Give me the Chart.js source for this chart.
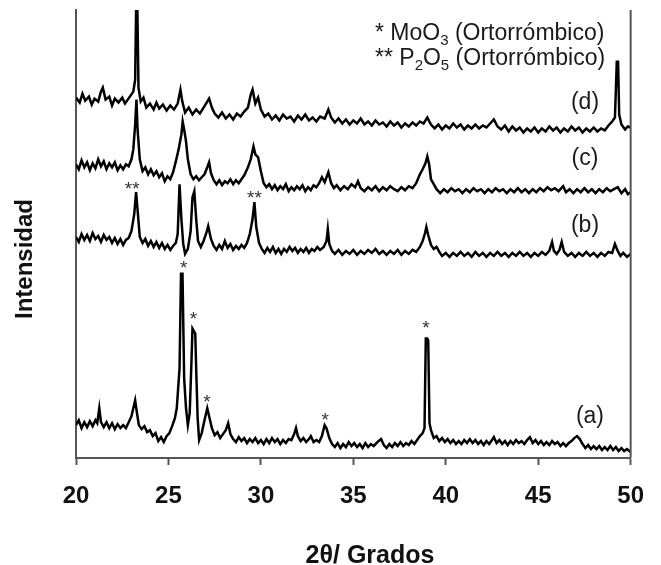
<!DOCTYPE html>
<html>
<head>
<meta charset="utf-8">
<script src="https://cdn.jsdelivr.net/npm/chart.js@4.4.1/dist/chart.umd.min.js"></script>
<style>
  html, body { margin: 0; padding: 0; background: #fff; }
  #wrap { width: 661px; height: 565px; position: relative; }
</style>
</head>
<body>
<div id="wrap"><canvas id="xrdChart"></canvas></div>
<script>
// Tick labels of the 2θ axis
const xTicks = [20, 25, 30, 35, 40, 45, 50];

// Diffraction patterns, [2θ, intensity] (arbitrary units, offset per sample)
const traceA = [[20.0,33],[20.15,38],[20.3,30],[20.45,36],[20.6,31],[20.75,37],[20.9,32],[21.05,38],[21.15,35],[21.26,50],[21.35,36],[21.5,31],[21.65,36],[21.8,30],[21.95,35],[22.1,29],[22.25,34],[22.4,30],[22.55,33],[22.7,30],[22.85,36],[23.0,42],[23.1,50],[23.2,58],[23.3,45],[23.4,33],[23.55,29],[23.7,32],[23.85,26],[24.0,28],[24.15,22],[24.3,25],[24.45,17],[24.6,21],[24.75,16],[24.9,22],[25.05,25],[25.2,32],[25.35,40],[25.45,50],[25.6,90],[25.68,185],[25.76,185],[25.85,80],[25.95,50],[26.05,33],[26.15,45],[26.25,100],[26.3,130],[26.45,125],[26.5,90],[26.58,40],[26.66,18],[26.8,25],[26.95,38],[27.1,50],[27.2,42],[27.35,30],[27.5,23],[27.65,26],[27.8,20],[27.95,24],[28.1,28],[28.23,35],[28.35,24],[28.5,19],[28.65,16],[28.8,21],[28.95,17],[29.1,20],[29.25,15],[29.4,19],[29.55,16],[29.7,20],[29.85,15],[30.0,18],[30.15,14],[30.3,19],[30.45,15],[30.6,20],[30.75,16],[30.9,19],[31.05,14],[31.2,18],[31.35,15],[31.5,19],[31.65,18],[31.8,24],[31.9,30],[32.0,22],[32.15,17],[32.3,20],[32.45,16],[32.6,19],[32.7,22],[32.85,16],[33.0,18],[33.15,16],[33.3,22],[33.45,33],[33.55,30],[33.7,20],[33.85,14],[34.0,11],[34.15,15],[34.3,10],[34.45,14],[34.6,11],[34.75,16],[34.9,12],[35.05,15],[35.2,11],[35.35,14],[35.5,10],[35.65,15],[35.8,11],[35.95,14],[36.1,12],[36.3,16],[36.5,19],[36.65,13],[36.8,10],[36.95,14],[37.1,11],[37.25,15],[37.4,12],[37.55,16],[37.7,12],[37.85,15],[38.0,13],[38.15,17],[38.3,14],[38.45,18],[38.6,22],[38.75,25],[38.85,30],[38.92,120],[39.0,120],[39.05,118],[39.12,35],[39.2,28],[39.35,20],[39.5,22],[39.65,17],[39.8,20],[39.95,16],[40.1,19],[40.25,15],[40.4,18],[40.55,14],[40.7,17],[40.85,14],[41.0,18],[41.15,15],[41.3,19],[41.45,15],[41.6,18],[41.75,14],[41.9,17],[42.05,13],[42.2,17],[42.35,14],[42.5,18],[42.6,21],[42.75,15],[42.9,18],[43.05,14],[43.2,17],[43.35,13],[43.5,17],[43.65,14],[43.8,18],[43.95,15],[44.1,17],[44.25,14],[44.4,18],[44.55,21],[44.7,15],[44.85,18],[45.0,14],[45.15,17],[45.3,13],[45.45,16],[45.6,13],[45.75,17],[45.9,14],[46.05,16],[46.2,12],[46.35,15],[46.5,12],[46.65,15],[46.8,17],[46.95,20],[47.1,22],[47.25,19],[47.4,14],[47.55,10],[47.7,13],[47.85,9],[48.0,12],[48.15,9],[48.3,12],[48.45,8],[48.6,11],[48.75,8],[48.9,12],[49.05,8],[49.2,11],[49.35,7],[49.5,10],[49.65,7],[49.8,9],[50.0,6]];

const traceB = [[20.0,222],[20.15,217],[20.3,225],[20.45,219],[20.6,224],[20.75,218],[20.9,226],[21.05,220],[21.2,223],[21.35,217],[21.5,224],[21.65,219],[21.8,222],[21.95,216],[22.1,221],[22.25,215],[22.4,220],[22.55,214],[22.7,219],[22.85,221],[23.0,228],[23.15,245],[23.25,267],[23.35,245],[23.45,222],[23.6,216],[23.75,220],[23.9,213],[24.05,218],[24.2,212],[24.35,217],[24.5,211],[24.65,216],[24.8,210],[24.95,214],[25.1,209],[25.25,213],[25.4,216],[25.5,225],[25.6,275],[25.7,240],[25.8,215],[25.9,205],[26.05,210],[26.2,228],[26.3,262],[26.4,268],[26.5,240],[26.6,218],[26.75,212],[26.9,218],[27.05,226],[27.15,233],[27.3,220],[27.45,213],[27.6,209],[27.75,214],[27.9,210],[28.05,218],[28.2,211],[28.35,215],[28.5,209],[28.65,213],[28.8,210],[28.95,214],[29.1,211],[29.25,216],[29.4,225],[29.55,240],[29.65,257],[29.75,232],[29.9,216],[30.05,210],[30.2,206],[30.35,211],[30.5,207],[30.65,212],[30.8,206],[30.95,210],[31.1,205],[31.25,210],[31.4,207],[31.55,212],[31.7,208],[31.85,211],[32.0,206],[32.15,210],[32.3,207],[32.45,211],[32.6,206],[32.75,210],[32.9,208],[33.05,212],[33.2,209],[33.4,212],[33.55,218],[33.62,230],[33.7,215],[33.85,208],[34.0,205],[34.2,209],[34.4,204],[34.6,208],[34.8,205],[35.0,209],[35.2,204],[35.4,208],[35.6,205],[35.8,209],[36.0,206],[36.2,210],[36.4,205],[36.6,208],[36.8,204],[37.0,208],[37.2,205],[37.4,209],[37.6,204],[37.8,208],[38.0,205],[38.2,209],[38.4,207],[38.6,212],[38.75,218],[38.88,226],[38.95,232],[39.05,224],[39.2,214],[39.35,210],[39.5,212],[39.65,207],[39.8,203],[40.0,206],[40.2,202],[40.4,206],[40.6,203],[40.8,207],[41.0,203],[41.2,206],[41.4,202],[41.6,207],[41.8,203],[42.0,206],[42.2,202],[42.4,206],[42.6,203],[42.8,207],[43.0,203],[43.2,206],[43.4,202],[43.6,206],[43.8,203],[44.0,207],[44.2,203],[44.4,206],[44.6,202],[44.8,206],[45.0,203],[45.2,207],[45.4,204],[45.6,208],[45.75,217],[45.85,208],[46.0,205],[46.15,209],[46.27,217],[46.4,207],[46.6,203],[46.8,206],[47.0,202],[47.2,206],[47.4,203],[47.6,207],[47.8,203],[48.0,206],[48.2,202],[48.4,206],[48.6,203],[48.8,207],[49.0,206],[49.15,215],[49.3,208],[49.45,203],[49.6,206],[49.8,202],[50.0,205]];

const traceC = [[20.0,295],[20.15,290],[20.3,299],[20.45,292],[20.6,297],[20.75,289],[20.9,296],[21.05,291],[21.2,300],[21.35,293],[21.5,298],[21.65,290],[21.8,296],[21.95,292],[22.1,297],[22.25,289],[22.4,294],[22.55,290],[22.7,295],[22.85,293],[23.0,300],[23.1,310],[23.2,335],[23.27,360],[23.33,330],[23.45,300],[23.6,288],[23.75,292],[23.9,285],[24.05,290],[24.2,284],[24.35,288],[24.5,282],[24.65,286],[24.8,278],[24.95,283],[25.1,280],[25.25,287],[25.4,298],[25.55,310],[25.7,325],[25.77,338],[25.85,330],[25.95,318],[26.05,300],[26.2,285],[26.35,280],[26.5,283],[26.65,279],[26.8,282],[26.95,285],[27.1,292],[27.2,297],[27.3,286],[27.45,279],[27.6,275],[27.75,279],[27.9,274],[28.05,278],[28.2,276],[28.35,280],[28.5,275],[28.65,279],[28.8,276],[28.95,280],[29.1,284],[29.3,292],[29.45,300],[29.6,313],[29.7,305],[29.85,302],[30.0,288],[30.15,276],[30.3,272],[30.45,275],[30.6,270],[30.75,274],[30.9,269],[31.05,273],[31.2,270],[31.35,275],[31.5,268],[31.65,272],[31.8,269],[31.95,273],[32.1,270],[32.25,274],[32.4,268],[32.55,272],[32.7,269],[32.85,274],[33.0,272],[33.15,276],[33.3,282],[33.45,277],[33.65,287],[33.8,276],[33.95,271],[34.1,274],[34.3,269],[34.5,273],[34.7,270],[34.9,275],[35.1,272],[35.25,278],[35.4,271],[35.6,268],[35.8,272],[36.0,269],[36.2,273],[36.4,268],[36.6,272],[36.8,269],[37.0,273],[37.2,270],[37.4,268],[37.6,272],[37.8,269],[38.0,273],[38.2,271],[38.4,276],[38.6,285],[38.75,290],[38.9,296],[39.0,303],[39.1,295],[39.2,280],[39.35,275],[39.5,270],[39.7,266],[39.9,270],[40.1,267],[40.3,271],[40.5,268],[40.7,270],[40.9,266],[41.1,270],[41.3,267],[41.5,271],[41.7,268],[41.9,270],[42.1,266],[42.3,270],[42.5,267],[42.7,271],[42.9,268],[43.1,270],[43.3,266],[43.5,270],[43.7,267],[43.9,271],[44.1,267],[44.3,270],[44.5,266],[44.7,270],[44.9,267],[45.1,271],[45.3,268],[45.5,272],[45.7,269],[45.9,271],[46.1,268],[46.35,273],[46.5,267],[46.7,270],[46.9,266],[47.1,270],[47.3,267],[47.5,271],[47.7,267],[47.9,270],[48.1,266],[48.3,270],[48.5,267],[48.7,271],[48.9,268],[49.1,270],[49.3,272],[49.5,266],[49.7,270],[49.85,265],[50.0,267]];

const traceD = [[20.0,362],[20.2,357],[20.35,366],[20.5,359],[20.7,363],[20.85,355],[21.0,361],[21.2,358],[21.35,368],[21.45,372],[21.6,360],[21.8,363],[21.95,354],[22.1,361],[22.3,357],[22.5,362],[22.65,356],[22.8,360],[22.95,364],[23.1,368],[23.2,380],[23.25,450],[23.32,450],[23.38,372],[23.5,358],[23.65,362],[23.8,352],[24.0,356],[24.2,350],[24.35,357],[24.5,351],[24.7,355],[24.9,349],[25.1,354],[25.3,350],[25.5,356],[25.65,370],[25.75,358],[25.9,347],[26.1,352],[26.3,345],[26.5,350],[26.7,346],[26.9,352],[27.1,358],[27.2,361],[27.35,352],[27.5,346],[27.7,342],[27.9,347],[28.1,341],[28.3,345],[28.5,340],[28.7,346],[28.9,343],[29.1,348],[29.3,352],[29.45,365],[29.55,370],[29.7,356],[29.85,362],[30.0,350],[30.2,343],[30.4,346],[30.6,340],[30.8,344],[31.0,339],[31.2,345],[31.4,341],[31.6,343],[31.8,338],[32.0,344],[32.2,340],[32.4,345],[32.6,339],[32.8,342],[33.0,338],[33.2,343],[33.45,341],[33.65,350],[33.8,342],[34.0,337],[34.2,341],[34.4,336],[34.6,340],[34.8,335],[35.0,339],[35.2,336],[35.4,341],[35.6,335],[35.8,338],[36.0,334],[36.2,339],[36.4,335],[36.6,337],[36.8,333],[37.0,338],[37.2,334],[37.4,337],[37.6,332],[37.8,336],[38.0,333],[38.2,337],[38.4,334],[38.6,338],[38.8,336],[39.0,342],[39.2,335],[39.4,331],[39.6,335],[39.8,330],[40.0,334],[40.2,331],[40.4,336],[40.6,332],[40.8,335],[41.0,330],[41.2,334],[41.4,331],[41.6,335],[41.8,331],[42.0,334],[42.2,332],[42.4,336],[42.6,340],[42.8,333],[43.0,330],[43.2,334],[43.4,328],[43.6,333],[43.8,329],[44.0,332],[44.2,327],[44.4,331],[44.6,328],[44.8,332],[45.0,327],[45.2,331],[45.4,328],[45.6,333],[45.8,329],[46.0,332],[46.2,327],[46.4,331],[46.6,328],[46.8,333],[47.0,329],[47.2,332],[47.4,327],[47.6,331],[47.8,328],[48.0,332],[48.2,328],[48.4,331],[48.6,329],[48.8,334],[49.0,338],[49.15,342],[49.25,398],[49.32,398],[49.38,345],[49.5,335],[49.7,330],[49.85,333],[50.0,332]];

// Peak markers: [text, 2θ, intensity]
const peakMarks = [
    ['**', 23.04, 275], ['**', 29.65, 266],
    ['*', 25.82, 196], ['*', 26.35, 145], ['*', 27.08, 61],
    ['*', 33.48, 43], ['*', 38.93, 136]
];

// Sample labels: [text, 2θ, intensity]
const sampleLabels = [
    ['(d)', 47.53, 357], ['(c)', 47.53, 301],
    ['(b)', 47.53, 233], ['(a)', 47.80, 42]
];

const FONT = '"Liberation Sans", Arial, sans-serif';

function toPoints(arr) {
    return arr.map(p => ({ x: p[0], y: p[1] }));
}

// Draws a line of text with subscript pieces, e.g. MoO3
function drawRich(ctx, parts, x, y) {
    let cx = x;
    parts.forEach(part => {
        if (part.sub) {
            ctx.font = '15px ' + FONT;
            ctx.fillText(part.t, cx, y + 5);
        } else {
            ctx.font = '23px ' + FONT;
            ctx.fillText(part.t, cx, y);
        }
        cx += ctx.measureText(part.t).width;
    });
}

const overlay = {
    id: 'overlay',
    afterDraw(chart) {
        const { ctx, chartArea, scales } = chart;
        const xs = scales.x, ys = scales.y;
        ctx.save();

        // right frame line
        ctx.strokeStyle = '#555';
        ctx.lineWidth = 2;
        ctx.beginPath();
        ctx.moveTo(chartArea.right, chartArea.top);
        ctx.lineTo(chartArea.right, chartArea.bottom);
        ctx.stroke();

        ctx.fillStyle = '#111';

        // axis titles
        ctx.font = 'bold 25px ' + FONT;
        ctx.textAlign = 'center';
        ctx.textBaseline = 'alphabetic';
        ctx.fillText('2θ/ Grados', 370, 563);

        ctx.save();
        ctx.translate(32, 259);
        ctx.rotate(-Math.PI / 2);
        ctx.font = 'bold 24px ' + FONT;
        ctx.fillText('Intensidad', 0, 0);
        ctx.restore();

        // peak markers
        ctx.font = '19px ' + FONT;
        ctx.textAlign = 'center';
        ctx.textBaseline = 'alphabetic';
        ctx.fillStyle = '#333';
        peakMarks.forEach(m => {
            ctx.fillText(m[0], xs.getPixelForValue(m[1]), ys.getPixelForValue(m[2]) + 11);
        });

        // sample labels
        ctx.fillStyle = '#1a1a1a';
        ctx.font = '23px ' + FONT;
        ctx.textBaseline = 'middle';
        sampleLabels.forEach(l => {
            ctx.fillText(l[0], xs.getPixelForValue(l[1]), ys.getPixelForValue(l[2]));
        });

        // phase key
        ctx.textAlign = 'left';
        ctx.textBaseline = 'alphabetic';
        drawRich(ctx, [{ t: '* MoO' }, { t: '3', sub: true }, { t: ' (Ortorrómbico)' }], 375, 40);
        drawRich(ctx, [{ t: '** P' }, { t: '2', sub: true }, { t: 'O' }, { t: '5', sub: true }, { t: ' (Ortorrómbico)' }], 375, 65);

        ctx.restore();
    }
};

function lineSet(data) {
    return {
        data: toPoints(data),
        borderColor: '#000',
        borderWidth: 2.5,
        pointRadius: 0,
        tension: 0,
        fill: false
    };
}

new Chart(document.getElementById('xrdChart'), {
    type: 'line',
    data: {
        datasets: [lineSet(traceA), lineSet(traceB), lineSet(traceC), lineSet(traceD)]
    },
    options: {
        responsive: true,
        maintainAspectRatio: false,
        animation: false,
        layout: { padding: { top: 10, right: 12, left: 0, bottom: 0 } },
        plugins: {
            legend: { display: false },
            tooltip: { enabled: false }
        },
        scales: {
            x: {
                type: 'linear',
                min: 20,
                max: 50,
                afterBuildTicks: (scale) => { scale.ticks = xTicks.map(v => ({ value: v })); },
                afterFit: (scale) => { scale.height = 107; },
                grid: { display: true, drawOnChartArea: false, drawTicks: true, tickLength: 7, tickColor: '#555', tickWidth: 2 },
                border: { display: true, color: '#555', width: 2 },
                ticks: {
                    color: '#111',
                    padding: 17,
                    maxRotation: 0,
                    font: { family: FONT, size: 24, weight: 'bold' }
                }
            },
            y: {
                type: 'linear',
                min: 0,
                max: 450,
                afterFit: (scale) => { scale.width = 76; },
                grid: { display: false },
                border: { display: true, color: '#555', width: 2 },
                ticks: { display: false }
            }
        }
    },
    plugins: [overlay]
});
</script>
</body>
</html>
